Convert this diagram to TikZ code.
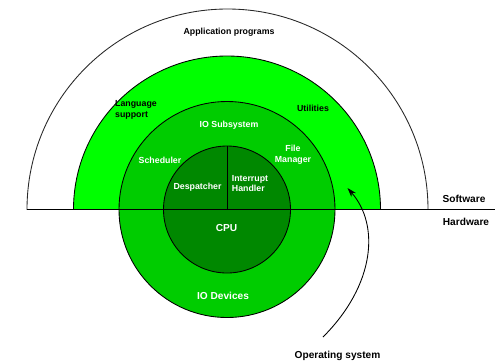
\documentclass[tikz,border=0pt]{standalone}
\usepackage{fontspec}
\setmainfont{Liberation Sans}
\usetikzlibrary{arrows.meta}
\definecolor{lightgr}{RGB}{0,255,0}
\definecolor{midgr}{RGB}{0,204,0}
\definecolor{darkgr}{RGB}{0,136,0}
\begin{document}
\begin{tikzpicture}[x=0.75pt,y=0.75pt,yscale=-1,xscale=1,line width=0.65pt,
  lbl/.style={inner sep=0.75pt,align=center,font=\fontsize{6.6}{8.2}\selectfont\bfseries},
  wlbl/.style={lbl,text=white},
  biglbl/.style={lbl,font=\fontsize{7.6}{9}\selectfont\bfseries}]
\useasboundingbox (0,0) rectangle (495,362);

%Application programs shell
\draw [fill=white,draw={rgb, 255:red, 40; green, 40; blue, 40 }] (27,209.5) arc [start angle=180, end angle=360, radius=200.5] -- cycle ;
%Utilities ring
\draw [fill=lightgr] (73.5,209.5) arc [start angle=180, end angle=360, radius=153.5] -- cycle ;
%IO circle
\draw [fill=midgr] (227,209.5) circle [radius=108] ;
%CPU circle
\draw [fill=darkgr] (227,209.5) circle [radius=63.5] ;
\draw (227,146) -- (227,209.5) ;
%Software / hardware line
\draw (27,209.5) -- (495,209.5) ;

% Text Node
\node (app) [lbl] at (229,32) {Application programs};
\node (lang) [lbl,align=left] at (136,109.5) {Language\\support};
\node (util) [lbl] at (313,108.5) {Utilities};
\node (iosub) [wlbl] at (229,125) {IO Subsystem};
\node (sched) [wlbl] at (160,160) {Scheduler};
\node (fileman) [wlbl] at (293,154.5) {File\\Manager};
\node (desp) [wlbl] at (197.5,187) {Despatcher};
\node (intr) [wlbl,align=left] at (250,183.5) {Interrupt\\Handler};
\node (cpu) [biglbl,text=white] at (226.5,228.5) {CPU};
\node (iodev) [biglbl,text=white] at (223,296) {IO Devices};
\node (soft) [biglbl] at (464,198.5) {Software};
\node (hard) [biglbl] at (466,221.5) {Hardware};
\node (os) [biglbl] at (337.5,355.5) {Operating system};

%Arrow to the OS ring
\coordinate (osfoot) at (323,337) ;
\coordinate (ostip) at (347.5,188) ;
\draw [-{Stealth[length=7pt,width=4.5pt]}] (osfoot) .. controls (375,285) and (380,225) .. (ostip) ;

\end{tikzpicture}
\end{document}
